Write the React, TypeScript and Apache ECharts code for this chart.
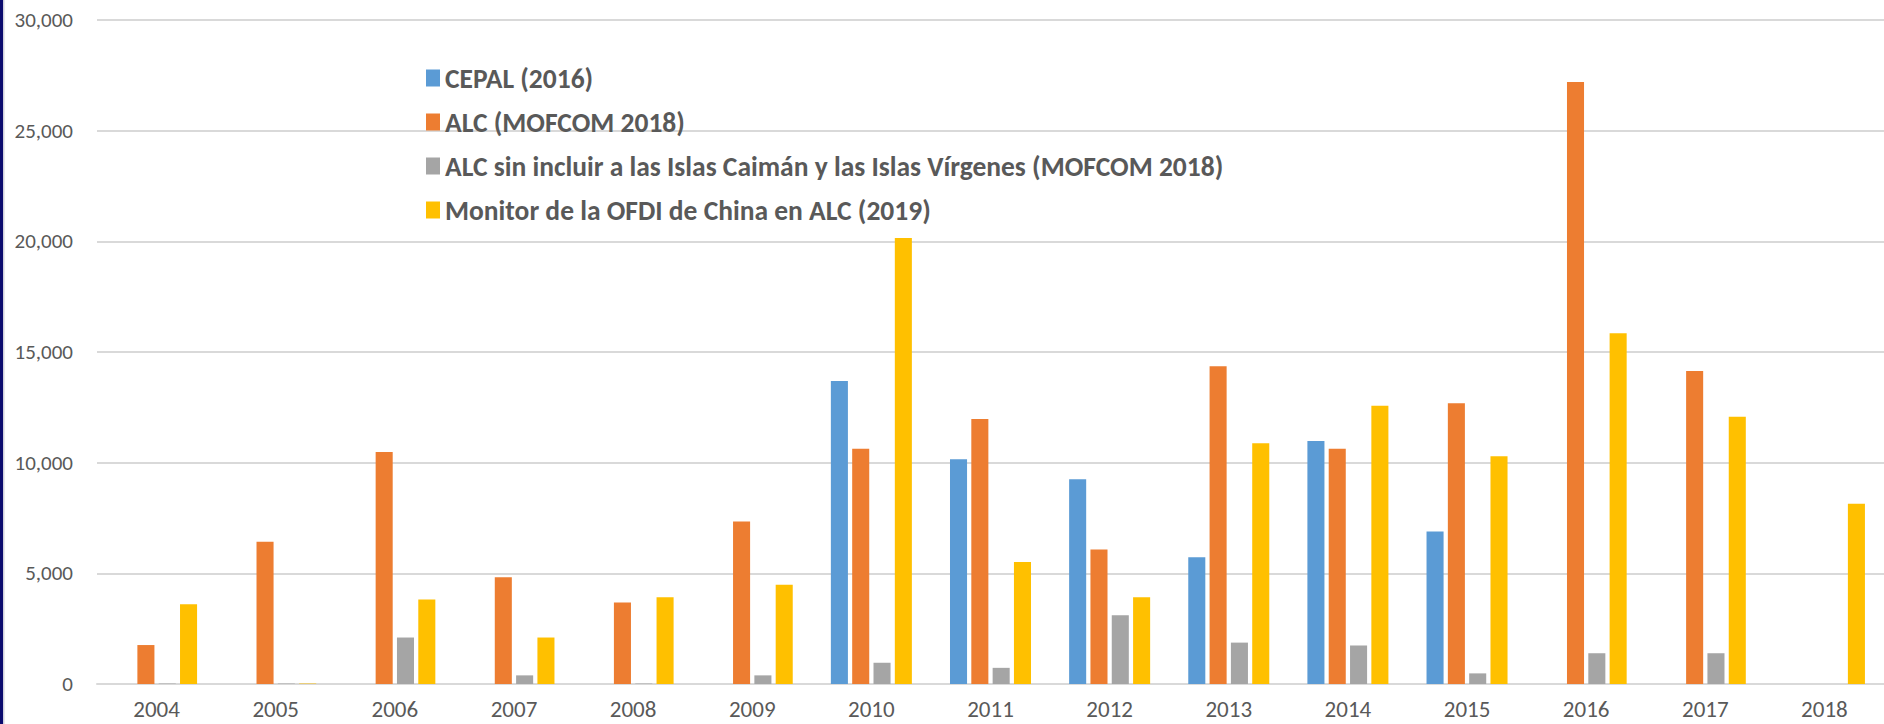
import { useEffect, useRef } from "react";
import * as echarts from "echarts";

const years = ["2004", "2005", "2006", "2007", "2008", "2009", "2010", "2011", "2012", "2013", "2014", "2015", "2016", "2017", "2018"];
const cepal = [null, null, null, null, null, null, 13690, 10160, 9250, 5730, 10980, 6890, null, null, null];
const alcMofcom = [1760, 6430, 10480, 4820, 3680, 7340, 10630, 11970, 6080, 14360, 10630, 12690, 27200, 14140, null];
const alcSinIslas = [20, 20, 2100, 390, 20, 390, 960, 730, 3110, 1870, 1740, 480, 1390, 1390, null];
const monitorOfdi = [3600, 20, 3820, 2100, 3920, 4480, 20150, 5510, 3920, 10880, 12570, 10290, 15850, 12070, 8140];

const seriesNames = [
  "CEPAL (2016)",
  "ALC (MOFCOM 2018)",
  "ALC sin incluir a las Islas Caimán y las Islas Vírgenes (MOFCOM 2018)",
  "Monitor de la OFDI de China en ALC (2019)",
];
const colors = ["#5B9BD5", "#ED7D31", "#A5A5A5", "#FFC000"];

const FONT = "Carlito, Calibri, Lato, sans-serif";

export default function App() {
  const ref = useRef<HTMLDivElement>(null);
  useEffect(() => {
    document.body.style.margin = "0";
    const chart = echarts.init(ref.current!, null, { renderer: "svg" });
    const data = [cepal, alcMofcom, alcSinIslas, monitorOfdi];
    chart.setOption({
      animation: false,
      backgroundColor: "#ffffff",
      grid: { left: 97, right: -7, top: 20, bottom: 40, containLabel: false },
      legend: {
        orient: "vertical",
        left: 421,
        top: 58,
        itemGap: 14,
        itemWidth: 14,
        itemHeight: 17,
        icon: "rect",
        data: seriesNames,
        textStyle: { fontFamily: FONT, fontSize: 27.5, fontWeight: "bold", color: "#595959", lineHeight: 30 },
      },
      xAxis: {
        type: "category",
        data: years,
        axisLine: { show: true, lineStyle: { color: "#d9d9d9", width: 2 } },
        axisTick: { show: false },
        axisLabel: { fontFamily: FONT, fontSize: 23, color: "#595959", margin: 13 },
      },
      yAxis: {
        type: "value",
        min: 0,
        max: 30000,
        interval: 5000,
        axisLine: { show: false },
        axisTick: { show: false },
        splitLine: { lineStyle: { color: "#d9d9d9", width: 2 } },
        axisLabel: {
          fontFamily: FONT,
          fontSize: 21,
          color: "#595959",
          margin: 24,
          formatter: (v: number) => v.toLocaleString("en-US"),
        },
      },
      graphic: [
        { type: "rect", shape: { x: 0, y: 0, width: 3, height: 724 }, style: { fill: "#0b0b6e" } },
        { type: "rect", shape: { x: 3, y: 0, width: 1.5, height: 724 }, style: { fill: "#d0d0dc" } },
      ],
      series: seriesNames.map((name, i) => ({
        name,
        type: "bar",
        data: data[i],
        barGap: "25%",
        barCategoryGap: "32%",
        itemStyle: { color: colors[i] },
      })),
    });
    return () => chart.dispose();
  }, []);
  return <div ref={ref} style={{ width: 1884, height: 724 }} />;
}
